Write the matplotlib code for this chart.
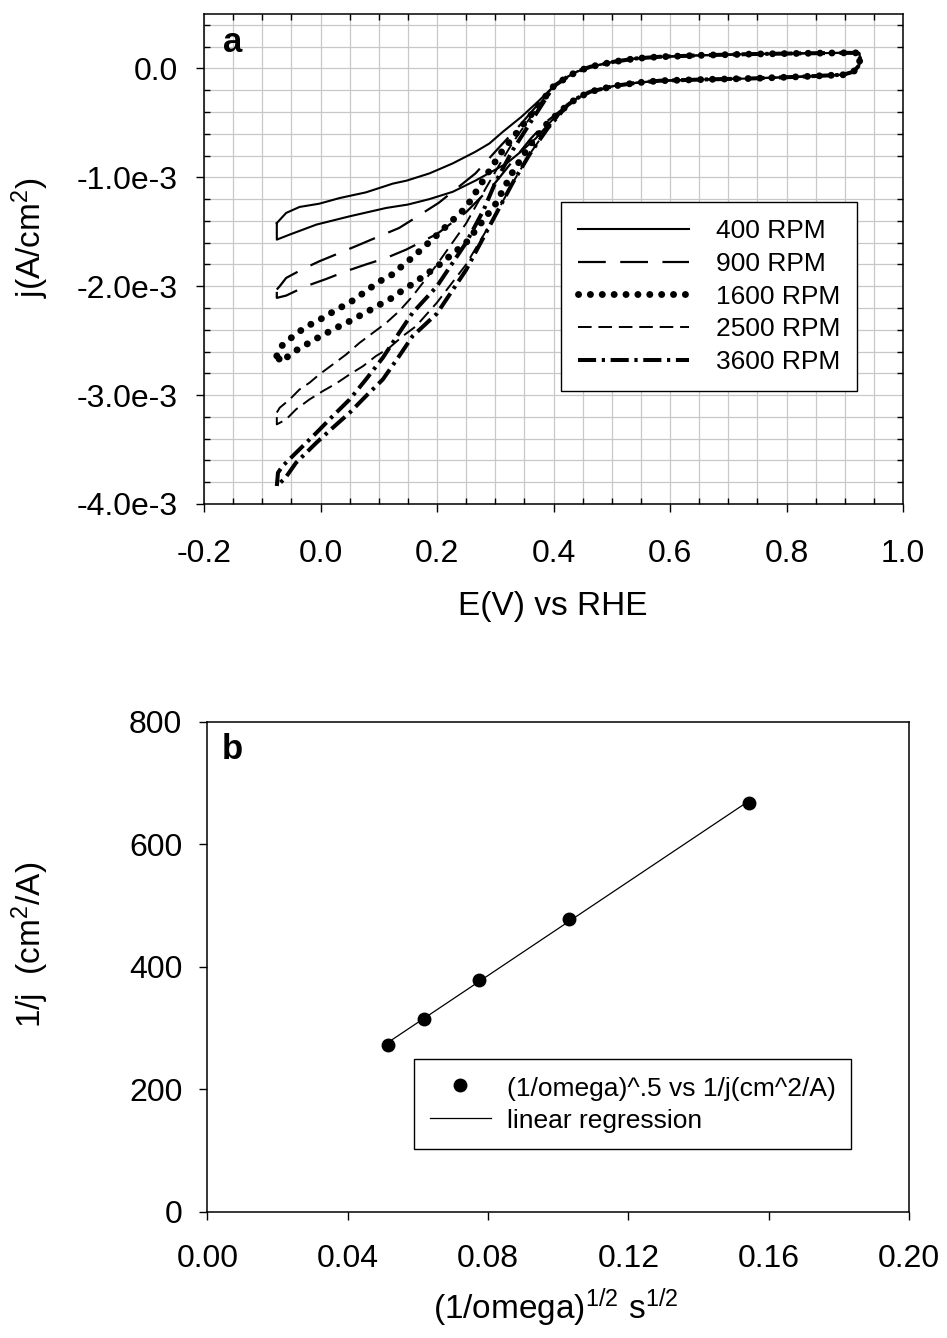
import numpy as np
import matplotlib
matplotlib.use("Agg")
import matplotlib.pyplot as plt
from matplotlib.ticker import MultipleLocator, FuncFormatter

plt.rcParams['font.family'] = ['Liberation Sans', 'DejaVu Sans']
plt.rcParams['axes.unicode_minus'] = False
plt.rcParams['mathtext.fontset'] = 'custom'
plt.rcParams['mathtext.rm'] = 'Liberation Sans'
plt.rcParams['mathtext.it'] = 'Liberation Sans:italic'
plt.rcParams['mathtext.bf'] = 'Liberation Sans:bold'

# ---------------- Panel a data (E in V vs RHE, j in 1e-3 A/cm2) ----------------
# shared high-potential part (all rotation rates overlap)
E_hi_up = [0.400, 0.424, 0.440, 0.463, 0.503, 0.542, 0.582, 0.661, 0.740, 0.818, 0.897, 0.925, 0.926, 0.925, 0.915]
j_hi_up = [-0.165, -0.077, -0.030, 0.015, 0.061, 0.092, 0.107, 0.122, 0.132, 0.138, 0.143, 0.143, 0.100, 0.030, -0.030]
E_hi_dn = [0.897, 0.818, 0.740, 0.661, 0.582, 0.542, 0.503, 0.463, 0.440, 0.424]
j_hi_dn = [-0.058, -0.077, -0.092, -0.101, -0.113, -0.132, -0.162, -0.214, -0.275, -0.337]

# 400 RPM
E_400_up = [-0.075, -0.059, -0.036, -0.002, 0.033, 0.078, 0.124, 0.148, 0.187, 0.227, 0.266, 0.290, 0.313, 0.345, 0.376]
j_400_up = [-1.42, -1.327, -1.272, -1.242, -1.19, -1.138, -1.058, -1.03, -0.964, -0.872, -0.765, -0.689, -0.582, -0.444, -0.291]
E_400_dn = [0.408, 0.390, 0.370, 0.345, 0.320, 0.290, 0.266, 0.227, 0.187, 0.150, 0.113, 0.050, -0.007, -0.053, -0.075]
j_400_dn = [-0.413, -0.52, -0.64, -0.76, -0.87, -0.96, -1.03, -1.133, -1.2, -1.25, -1.281, -1.358, -1.434, -1.526, -1.572]

# 900 RPM
E_900_up = [-0.075, -0.070, -0.059, -0.030, -0.002, 0.033, 0.067, 0.101, 0.135, 0.158, 0.203, 0.266, 0.305, 0.345, 0.377]
j_900_up = [-2.03, -2.0, -1.924, -1.841, -1.771, -1.694, -1.618, -1.541, -1.465, -1.388, -1.234, -0.964, -0.735, -0.505, -0.306]
E_900_dn = [0.390, 0.360, 0.330, 0.300, 0.250, 0.200, 0.164, 0.147, 0.113, 0.078, 0.044, 0.010, -0.025, -0.059, -0.075]
j_900_dn = [-0.48, -0.65, -0.85, -1.05, -1.32, -1.52, -1.618, -1.664, -1.74, -1.80, -1.862, -1.933, -2.0, -2.086, -2.107]

# 1600 RPM
E_1600_up = [-0.075, -0.067, -0.047, -0.029, -0.010, 0.010, 0.027, 0.047, 0.066, 0.084, 0.104, 0.123, 0.141, 0.159, 0.200, 0.250, 0.276, 0.298, 0.313, 0.329, 0.345, 0.377]
j_1600_up = [-2.64, -2.55, -2.459, -2.388, -2.33, -2.275, -2.214, -2.162, -2.092, -2.021, -1.948, -1.893, -1.81, -1.731, -1.53, -1.276, -1.056, -0.872, -0.75, -0.643, -0.536, -0.321]
E_1600_dn = [0.390, 0.360, 0.330, 0.300, 0.250, 0.200, 0.159, 0.141, 0.123, 0.104, 0.084, 0.066, 0.047, 0.027, 0.009, -0.010, -0.029, -0.049, -0.067]
j_1600_dn = [-0.5, -0.7, -0.95, -1.25, -1.6, -1.82, -1.976, -2.037, -2.107, -2.162, -2.223, -2.275, -2.33, -2.382, -2.434, -2.489, -2.55, -2.612, -2.697]

# 2500 RPM
E_2500_up = [-0.075, -0.070, -0.053, -0.036, -0.019, -0.002, 0.021, 0.044, 0.067, 0.090, 0.113, 0.135, 0.158, 0.200, 0.250, 0.282, 0.305, 0.329, 0.353, 0.377]
j_2500_up = [-3.16, -3.116, -3.04, -2.948, -2.887, -2.81, -2.719, -2.627, -2.52, -2.428, -2.336, -2.229, -2.092, -1.80, -1.423, -1.117, -0.903, -0.689, -0.505, -0.321]
E_2500_dn = [0.390, 0.360, 0.330, 0.300, 0.250, 0.200, 0.164, 0.141, 0.118, 0.095, 0.073, 0.050, 0.027, 0.004, -0.019, -0.042, -0.059, -0.075]
j_2500_dn = [-0.55, -0.78, -1.05, -1.35, -1.8, -2.15, -2.367, -2.459, -2.566, -2.642, -2.734, -2.81, -2.893, -2.963, -3.04, -3.131, -3.223, -3.269]

# 3600 RPM
E_3600_up = [-0.075, -0.073, -0.065, -0.036, -0.007, 0.021, 0.050, 0.078, 0.107, 0.135, 0.158, 0.200, 0.250, 0.280, 0.300, 0.330, 0.360, 0.390]
j_3600_up = [-3.835, -3.713, -3.651, -3.498, -3.346, -3.193, -3.04, -2.856, -2.657, -2.428, -2.245, -2.0, -1.6, -1.3, -1.05, -0.75, -0.5, -0.25]
E_3600_dn = [0.390, 0.360, 0.330, 0.300, 0.250, 0.200, 0.158, 0.135, 0.107, 0.078, 0.050, 0.021, -0.007, -0.042, -0.060]
j_3600_dn = [-0.55, -0.78, -1.05, -1.35, -1.85, -2.25, -2.459, -2.642, -2.856, -3.009, -3.162, -3.3, -3.437, -3.621, -3.758]

rpm_labels = ['400 RPM', '900 RPM', '1600 RPM', '2500 RPM', '3600 RPM']

# ---------------- Panel b data ----------------
inv_sqrt_omega = [0.0515, 0.0618, 0.0773, 0.1030, 0.1545]
inv_j = [272, 315, 379, 478, 668]

# ---------------- Figure ----------------
fig = plt.figure(figsize=(9.47, 13.38), dpi=100)
W, H = 947.0, 1338.0

ax1 = fig.add_axes([204 / W, 1 - 504 / H, 699 / W, 490 / H])
ax2 = fig.add_axes([207.3 / W, 1 - 1211.7 / H, 701.7 / W, 490 / H])

def loop(Eu, ju, Ed, jd):
    E = np.concatenate([Eu, E_hi_up, E_hi_dn, Ed, Eu[:1]])
    j = np.concatenate([ju, j_hi_up, j_hi_dn, jd, ju[:1]]) * 1e-3
    return E, j

styles = [
    dict(lw=1.5, ls='-'),
    dict(lw=1.6, ls=(0, (12.5, 6.5))),
    dict(lw=5.0, ls=(0, (0.01, 1.7)), dash_capstyle='round'),
    dict(lw=1.4, ls=(0, (7, 3.5))),
    dict(lw=2.9, ls=(0, (4.5, 1.4, 0.8, 1.4))),
]
curves = [
    (E_400_up, j_400_up, E_400_dn, j_400_dn),
    (E_900_up, j_900_up, E_900_dn, j_900_dn),
    (E_1600_up, j_1600_up, E_1600_dn, j_1600_dn),
    (E_2500_up, j_2500_up, E_2500_dn, j_2500_dn),
    (E_3600_up, j_3600_up, E_3600_dn, j_3600_dn),
]
for (Eu, ju, Ed, jd), st, lab in zip(curves, styles, rpm_labels):
    E, j = loop(Eu, ju, Ed, jd)
    ax1.plot(E, j, color='black', label=lab, zorder=3, **st)

ax1.set_xlim(-0.2, 1.0)
ax1.set_ylim(-4.0e-3, 0.5e-3)
ax1.xaxis.set_major_locator(MultipleLocator(0.2))
ax1.xaxis.set_minor_locator(MultipleLocator(0.05))
ax1.yaxis.set_major_locator(MultipleLocator(1e-3))
ax1.yaxis.set_minor_locator(MultipleLocator(0.2e-3))
ax1.xaxis.set_major_formatter(FuncFormatter(lambda v, p: f"{v:.1f}"))
def yfmt(v, p):
    if abs(v) < 1e-9:
        return "0.0"
    return f"{v * 1e3:.1f}e-3"
ax1.yaxis.set_major_formatter(FuncFormatter(yfmt))
ax1.grid(which='both', color='#c8c8c8', lw=0.9)
ax1.set_axisbelow(True)
ax1.tick_params(which='major', direction='out', length=6, width=1.0, labelsize=23,
                top=False, right=False, colors='black')
ax1.tick_params(axis='y', which='major', pad=13)
ax1.tick_params(axis='x', which='major', pad=19)
ax1.tick_params(which='minor', direction='in', length=4, width=1.0, top=True, right=True)
for sp in ax1.spines.values():
    sp.set_linewidth(1.1)

leg1 = ax1.legend(loc='upper left', bbox_to_anchor=(0.511, 0.616), fontsize=19,
                  handlelength=4.2, handletextpad=1.0, borderpad=0.65, labelspacing=0.33,
                  fancybox=False, edgecolor='black', framealpha=1.0, borderaxespad=0)
leg1.get_frame().set_linewidth(1.0)

ax1.text(0.0415, 0.941, 'a', transform=ax1.transAxes, fontsize=25, fontweight='bold',
         ha='center', va='center')

fig.text(30 / W, 1 - 238 / H, 'j(A/cm$^2$)', rotation=90, ha='center', va='center', fontsize=24)
fig.text(553 / W, 1 - 607 / H, 'E(V) vs RHE', ha='center', va='center', fontsize=24)

# ---------------- Panel b ----------------
ax2.plot(inv_sqrt_omega, inv_j, 'o', color='black', markersize=9,
         label='(1/omega)^.5 vs 1/j(cm^2/A)', zorder=3)
coef = np.polyfit(inv_sqrt_omega, inv_j, 1)
xfit = np.array([min(inv_sqrt_omega), max(inv_sqrt_omega)])
ax2.plot(xfit, np.polyval(coef, xfit), '-', color='black', lw=0.9, label='linear regression')

ax2.set_xlim(0.0, 0.20)
ax2.set_ylim(0, 800)
ax2.xaxis.set_major_locator(MultipleLocator(0.04))
ax2.yaxis.set_major_locator(MultipleLocator(200))
ax2.xaxis.set_major_formatter(FuncFormatter(lambda v, p: f"{v:.2f}"))
ax2.yaxis.set_major_formatter(FuncFormatter(lambda v, p: f"{v:.0f}"))
ax2.tick_params(which='major', direction='out', length=6, width=1.0, labelsize=23,
                top=False, right=False)
ax2.tick_params(axis='y', pad=12)
ax2.tick_params(axis='x', pad=17)
for sp in ax2.spines.values():
    sp.set_linewidth(1.1)

leg2 = ax2.legend(loc='upper left', bbox_to_anchor=(0.295, 0.312), fontsize=19,
                  handlelength=2.3, handletextpad=0.6, handleheight=1.0,
                  borderpad=0.6, labelspacing=0.26,
                  numpoints=1, fancybox=False, edgecolor='black', framealpha=1.0,
                  borderaxespad=0)
leg2.get_frame().set_linewidth(1.0)

ax2.text(0.036, 0.943, 'b', transform=ax2.transAxes, fontsize=25, fontweight='bold',
         ha='center', va='center')

fig.text(30 / W, 1 - 945 / H, '1/j  (cm$^2$/A)', rotation=90, ha='center', va='center', fontsize=24)
fig.text(556 / W, 1 - 1308 / H, '(1/omega)$^{1/2}$ s$^{1/2}$', ha='center', va='center', fontsize=24)

fig.savefig('out.png', dpi=100)
